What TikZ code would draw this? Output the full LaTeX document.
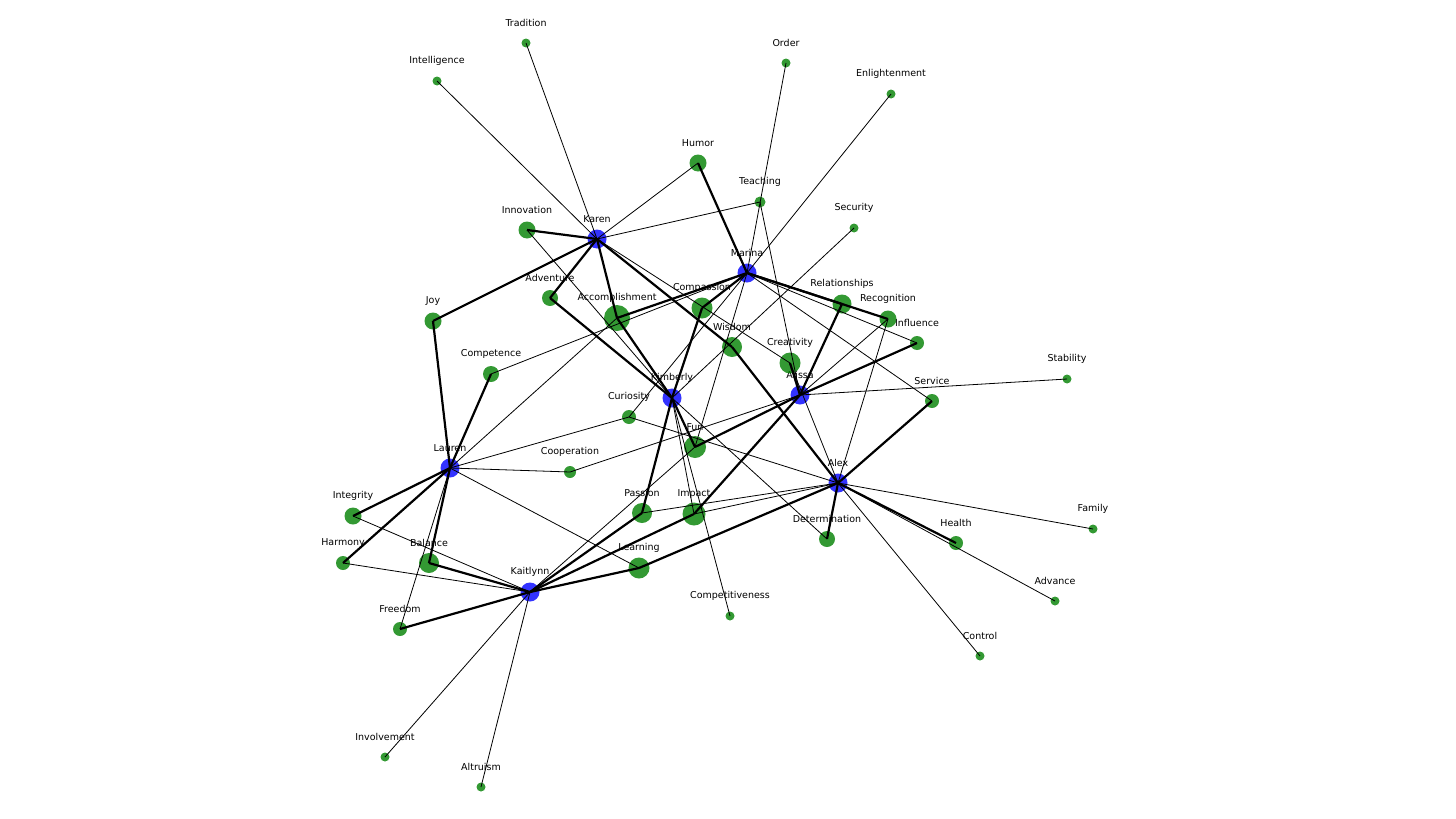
\documentclass[tikz,border=0pt]{standalone}
\usepackage{fontspec}
\setmainfont{DejaVu Sans}
\definecolor{pblue}{RGB}{0,0,255}
\definecolor{vgreen}{RGB}{0,128,0}
\begin{document}
\begin{tikzpicture}[x=1pt,y=-1pt,
  person/.style={circle,fill=pblue,fill opacity=.8,inner sep=0pt,minimum size=19pt},
  value/.style={circle,fill=vgreen,fill opacity=.8,inner sep=0pt},
  lbl/.style={font=\fontsize{9.5}{11}\selectfont,inner sep=0pt},
  weak/.style={line width=.8pt},
  strong/.style={line width=2.2pt}]
  \useasboundingbox (0,0) rectangle (1456,819);
  % people
  \foreach \n/\x/\y in {Karen/597/239,Marina/747/273,Kimberly/672/398,Alissa/800/395,
      Lauren/450/468,Alex/838/483,Kaitlynn/530/592}{
    \node[person] (\n) at (\x,\y) {};
    \node[lbl] (l\n) at (\x,\y-20) {\n};
  }
  % values
  \foreach \n/\x/\y/\r in {Tradition/526/43/4.5,Intelligence/437/81/4.5,Order/786/63/4.5,
      Enlightenment/891/94/4.5,Humor/698/163/8.5,Teaching/760/202/5.5,Security/854/228/4.5,
      Innovation/527/230/8.5,Adventure/550/298/8,Accomplishment/617/318/13,Compassion/702/308/10.5,
      Relationships/842/304/9.5,Recognition/888/319/8.5,Influence/917/343/7,Joy/433/321/8.5,
      Wisdom/732/347/10,Creativity/790/363/10.5,Competence/491/374/8,Stability/1067/379/4.5,
      Service/932/401/7,Curiosity/629/417/7,Fun/695/447/11,Cooperation/570/472/6,
      Integrity/353/516/8.5,Passion/642/513/10,Impact/694/514/11.5,Family/1093/529/4.5,
      Determination/827/539/8,Health/956/543/7,Harmony/343/563/7,Balance/429/563/10,
      Learning/639/568/10.5,Advance/1055/601/4.5,Freedom/400/629/7,Competitiveness/730/616/4.5,
      Control/980/656/4.5,Involvement/385/757/4.5,Altruism/481/787/4.5}{
    \node[value,minimum size={2*\r pt}] (\n) at (\x,\y) {};
    \node[lbl] (l\n) at (\x,\y-20) {\n};
  }
  % links
  \foreach \a/\b in {Karen/Intelligence,Karen/Tradition,Karen/Humor,Karen/Teaching,Karen/Creativity,
      Marina/Order,Marina/Enlightenment,Marina/Influence,Marina/Service,Marina/Competence,
      Marina/Fun,Marina/Curiosity,Kimberly/Innovation,Kimberly/Security,Kimberly/Impact,
      Kimberly/Competitiveness,Kimberly/Determination,Alissa/Recognition,Alissa/Stability,
      Alissa/Teaching,Alissa/Cooperation,Lauren/Accomplishment,Lauren/Curiosity,
      Lauren/Cooperation,Lauren/Learning,Lauren/Freedom,Alex/Recognition,Alex/Creativity,
      Alex/Curiosity,Alex/Family,Alex/Advance,Alex/Control,Alex/Passion,Alex/Impact,
      Kaitlynn/Integrity,Kaitlynn/Harmony,Kaitlynn/Fun,Kaitlynn/Involvement,Kaitlynn/Altruism}
    \draw[weak] (\a.center) -- (\b.center);
  \foreach \a/\b in {Karen/Innovation,Karen/Joy,Karen/Adventure,Karen/Accomplishment,Karen/Wisdom,
      Marina/Humor,Marina/Accomplishment,Marina/Compassion,Marina/Relationships,Marina/Recognition,
      Kimberly/Accomplishment,Kimberly/Adventure,Kimberly/Compassion,Kimberly/Passion,Kimberly/Fun,
      Alissa/Creativity,Alissa/Relationships,Alissa/Influence,Alissa/Fun,Alissa/Impact,
      Lauren/Joy,Lauren/Competence,Lauren/Integrity,Lauren/Harmony,Lauren/Balance,
      Alex/Wisdom,Alex/Service,Alex/Health,Alex/Determination,Alex/Learning,
      Kaitlynn/Balance,Kaitlynn/Freedom,Kaitlynn/Passion,Kaitlynn/Impact,Kaitlynn/Learning}
    \draw[strong] (\a.center) -- (\b.center);
\end{tikzpicture}
\end{document}
